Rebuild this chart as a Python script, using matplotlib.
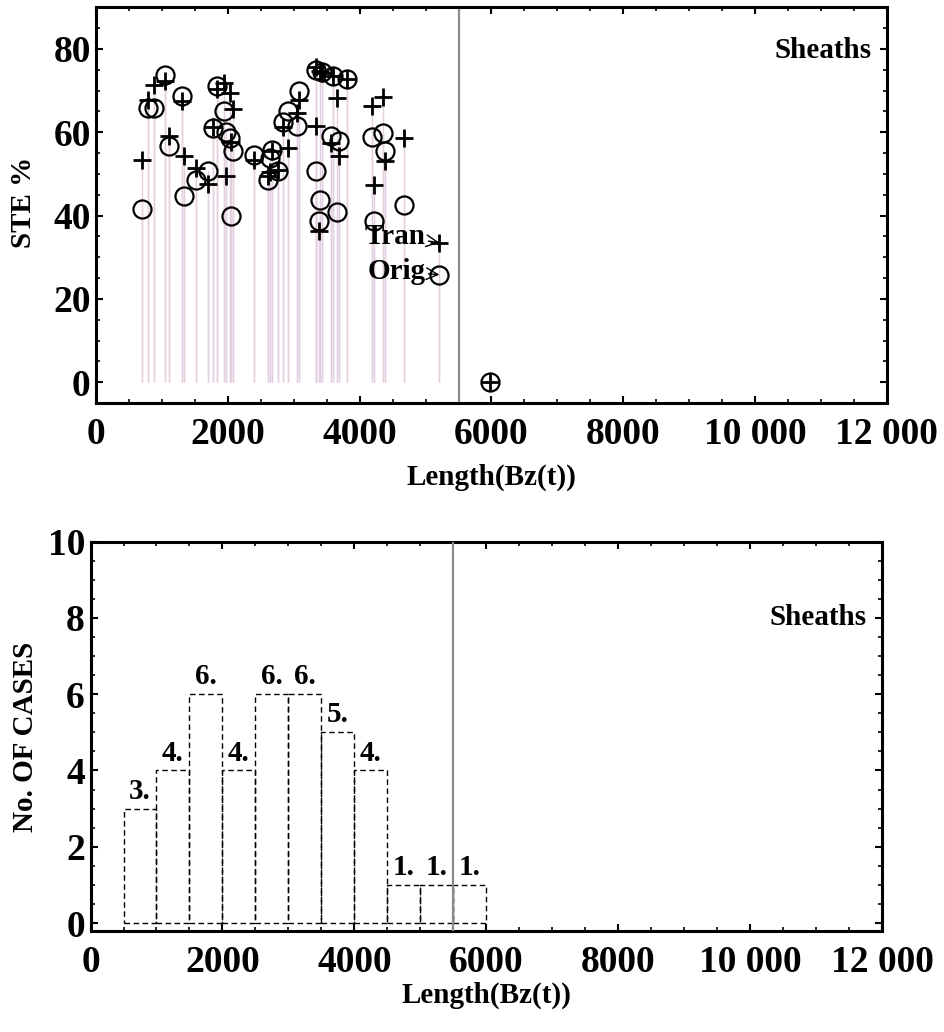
import matplotlib
matplotlib.use("Agg")
import matplotlib.pyplot as plt
from matplotlib.ticker import MultipleLocator

plt.rcParams['font.family'] = ['Liberation Serif', 'DejaVu Serif']
plt.rcParams['font.weight'] = 'bold'

# ---------------- data ----------------
length = [690, 791, 882, 1045, 1110, 1299, 1339, 1520, 1703, 1765, 1840, 1932,
          1970, 2025, 2044, 2070, 2390, 2605, 2640, 2668, 2760, 2830, 2905,
          3050, 3072, 3330, 3340, 3377, 3395, 3420, 3560, 3590, 3655, 3685,
          3810, 4190, 4215, 4360, 4390, 4669, 5210, 5980]
ste_orig = [41.6, 65.8, 65.8, 73.7, 56.6, 68.6, 44.6, 48.6, 50.6, 61.0, 71.0, 65.0,
            60.0, 58.6, 39.8, 55.4, 54.6, 48.6, 53.8, 55.8, 50.6, 62.4, 65.0,
            61.6, 69.8, 75.0, 50.8, 38.8, 43.8, 74.4, 59.0, 73.6, 40.8, 58.0,
            72.8, 58.9, 38.6, 59.8, 55.6, 42.6, 25.8, 0.0]
ste_tran = [53.4, 67.8, 71.4, 72.4, 59.0, 67.4, 54.2, 51.4, 47.6, 61.2, 70.3, 71.8,
            49.4, 69.4, 57.6, 65.6, 53.4, 49.6, 50.4, 55.6, 51.0, 61.2, 56.2,
            64.6, 67.8, 75.6, 61.4, 36.4, 74.8, 74.2, 57.4, 73.6, 68.3, 54.2,
            72.8, 66.2, 47.4, 68.5, 53.2, 58.6, 33.5, 0.0]

bin_edges = [500, 1000, 1500, 2000, 2500, 3000, 3500, 4000, 4500, 5000, 5500, 6000]
bin_counts = [3, 4, 6, 4, 6, 6, 5, 4, 1, 1, 1]

threshold = 5500
x_ticks = [0, 2000, 4000, 6000, 8000, 10000, 12000]
x_ticklabels = ['0', '2000', '4000', '6000', '8000', '10 000', '12 000']
y1_ticks = [0, 20, 40, 60, 80]
y2_ticks = [0, 2, 4, 6, 8, 10]

# ---------------- figure ----------------
fig = plt.figure(figsize=(9.44, 10.32), dpi=100)
ax1 = fig.add_axes([0.1020, 0.6095, 0.8373, 0.3834])
ax2 = fig.add_axes([0.0959, 0.0982, 0.8385, 0.3769])

TICK_FS = 27
LAB_FS = 21
stem_color = '#e3cfe0'

# top panel
for x, o, t in zip(length, ste_orig, ste_tran):
    ax1.vlines(x, 0, o, color=stem_color, lw=1.0, zorder=1)
    ax1.vlines(x, 0, t, color=stem_color, lw=1.0, zorder=1)
ax1.plot(length, ste_orig, linestyle='none', marker='o', ms=13, mfc='none',
         mec='black', mew=1.6, zorder=3)
ax1.plot(length, ste_tran, linestyle='none', marker='+', ms=13, color='black',
         mew=2.0, zorder=3)
ax1.axvline(threshold, color='#8a8a8a', lw=1.6, zorder=2)

ax1.annotate('Tran', xy=(length[-2], ste_tran[-2]), xytext=(5000, 35),
             ha='right', va='center', fontsize=LAB_FS, fontweight='bold',
             arrowprops=dict(arrowstyle='->', lw=1.0, color='black',
                             shrinkA=0, shrinkB=0))
ax1.annotate('Orig', xy=(length[-2], ste_orig[-2]), xytext=(5000, 26.6),
             ha='right', va='center', fontsize=LAB_FS, fontweight='bold',
             arrowprops=dict(arrowstyle='->', lw=1.0, color='black',
                             shrinkA=0, shrinkB=0))
ax1.text(0.981, 0.892, 'Sheaths', transform=ax1.transAxes, ha='right',
         va='center', fontsize=LAB_FS, fontweight='bold')

ax1.set_xlim(0, 12000)
ax1.set_ylim(-5, 90)
ax1.set_yticks(y1_ticks)
ax1.yaxis.set_minor_locator(MultipleLocator(5))

# bottom panel
centers = [(a + b) / 2 for a, b in zip(bin_edges[:-1], bin_edges[1:])]
widths = [b - a for a, b in zip(bin_edges[:-1], bin_edges[1:])]
ax2.bar(centers, bin_counts, width=widths, fill=False, edgecolor='black',
        linewidth=1.0, linestyle=(0, (4, 2.5)), zorder=2)
for c, n in zip(centers, bin_counts):
    ax2.text(c, n + 0.26, f"{n}.", ha='center', va='baseline',
             fontsize=LAB_FS, fontweight='bold')
ax2.axvline(threshold, color='#8a8a8a', lw=1.6, zorder=3)
ax2.text(0.981, 0.804, 'Sheaths', transform=ax2.transAxes, ha='right',
         va='center', fontsize=LAB_FS, fontweight='bold')

ax2.set_xlim(0, 12000)
ax2.set_ylim(-0.2, 10)
ax2.set_yticks(y2_ticks)
ax2.yaxis.set_minor_locator(MultipleLocator(0.5))

for ax in (ax1, ax2):
    ax.set_xticks(x_ticks)
    ax.set_xticklabels(x_ticklabels)
    ax.xaxis.set_minor_locator(MultipleLocator(500))
    ax.tick_params(which='both', direction='in', top=True, right=True)
    ax.tick_params(which='major', length=5, width=1.5, labelsize=TICK_FS)
    ax.tick_params(which='minor', length=2.8, width=1.2)
    ax.tick_params(axis='x', which='major', pad=10)
    ax.tick_params(axis='y', which='major', pad=4)
    for lab in ax.get_xticklabels() + ax.get_yticklabels():
        lab.set_fontweight('bold')
    for sp in ax.spines.values():
        sp.set_linewidth(2.2)

ax1.set_xlabel('Length(Bz(t))', fontsize=LAB_FS, fontweight='bold')
ax1.xaxis.set_label_coords(0.5, -0.154)
ax1.set_ylabel('STE %', fontsize=LAB_FS, fontweight='bold')
ax1.yaxis.set_label_coords(-0.075, 0.508)

ax2.set_xlabel('Length(Bz(t))', fontsize=LAB_FS, fontweight='bold')
ax2.xaxis.set_label_coords(0.5, -0.132)
ax2.set_ylabel('No. OF CASES', fontsize=LAB_FS, fontweight='bold')
ax2.yaxis.set_label_coords(-0.065, 0.499)

fig.savefig('out.png', dpi=100)
